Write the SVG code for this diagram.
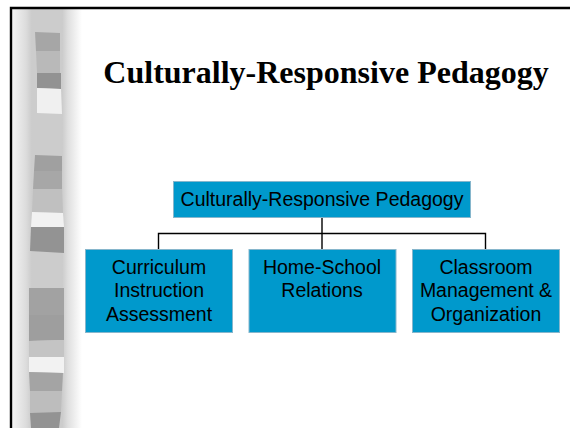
<svg xmlns="http://www.w3.org/2000/svg" width="570" height="428" viewBox="0 0 570 428">
  <style>
    .box { fill: #0099cc; stroke: #86b6cc; stroke-width: 1; }
    .lbl { font-family: "Liberation Sans", Arial, sans-serif; font-size: 19.5px; fill: #000; text-anchor: middle; }
    .title { font-family: "Liberation Serif", "Times New Roman", serif; font-size: 32px; font-weight: bold; fill: #000; }
    .wire { fill: none; stroke: #000; stroke-width: 1.4; }
  </style>
  <defs>
    <linearGradient id="column" x1="12" y1="0" x2="82" y2="0" gradientUnits="userSpaceOnUse">
      <stop offset="0" stop-color="#f4f4f4"/>
      <stop offset="0.2" stop-color="#dcdcdc"/>
      <stop offset="0.28" stop-color="#cccccc"/>
      <stop offset="0.72" stop-color="#cccccc"/>
      <stop offset="0.8" stop-color="#dfdfdf"/>
      <stop offset="1" stop-color="#ffffff"/>
    </linearGradient>
  </defs>

  <!-- slide background -->
  <rect x="0" y="0" width="570" height="428" fill="#ffffff"/>

  <!-- decorative banded column on the left -->
  <g id="sidebar">
    <rect x="12" y="9" width="70" height="419" fill="url(#column)"/>
    <polygon points="35,32 60,33 60,51 36,51" fill="#a6a6a6"/>
    <polygon points="36,51 60,51 60,73 37,73" fill="#b9b9b9"/>
    <polygon points="37,73 61,73 61,89 37,88" fill="#929292"/>
    <polygon points="37,88 61,89 62,114 37,113" fill="#f0f0f0"/>
    <polygon points="35,155 62,156 62,171 34,171" fill="#a0a0a0"/>
    <polygon points="34,171 62,171 62,189 33,189" fill="#a7a7a7"/>
    <polygon points="33,189 62,189 63,213 32,212" fill="#c0c0c0"/>
    <polygon points="32,212 63,213 64,227 31,227" fill="#f2f2f2"/>
    <polygon points="31,227 64,227 64,253 30,251" fill="#939393"/>
    <polygon points="29,288 64,288 64,315 29,315" fill="#a2a2a2"/>
    <polygon points="29,315 64,315 64,340 29,341" fill="#9e9e9e"/>
    <polygon points="29,341 64,340 64,357 29,357" fill="#c4c4c4"/>
    <polygon points="29,357 64,357 64,373 29,372" fill="#f2f2f2"/>
    <polygon points="29,372 63,373 62,391 30,391" fill="#a4a4a4"/>
    <polygon points="30,391 62,391 61,413 30,413" fill="#bdbdbd"/>
    <polygon points="30,413 61,412 59,428 31,428" fill="#939393"/>
  </g>

  <!-- slide frame -->
  <path d="M11,428 V8 H570" fill="none" stroke="#000" stroke-width="2.4"/>

  <text id="title" class="title" x="326" y="83" text-anchor="middle">Culturally-Responsive Pedagogy</text>

  <!-- connectors -->
  <g id="connectors">
    <path class="wire" d="M322,217.5 V249.5"/>
    <path class="wire" d="M158.5,249.5 V233.5 H485.5 V249.5"/>
  </g>

  <g id="root">
    <rect class="box" x="173.5" y="181.5" width="297" height="36"/>
    <text class="lbl" x="322" y="206">Culturally-Responsive Pedagogy</text>
  </g>

  <g id="curriculum">
    <rect class="box" x="85.5" y="249.5" width="147" height="83"/>
    <text class="lbl" x="159" y="274">Curriculum</text>
    <text class="lbl" x="159" y="297">Instruction</text>
    <text class="lbl" x="159" y="320.5">Assessment</text>
  </g>

  <g id="home-school">
    <rect class="box" x="249" y="249.5" width="147" height="83"/>
    <text class="lbl" x="322" y="274">Home-School</text>
    <text class="lbl" x="322" y="297">Relations</text>
  </g>

  <g id="classroom">
    <rect class="box" x="412.5" y="249.5" width="147" height="83"/>
    <text class="lbl" x="486" y="274">Classroom</text>
    <text class="lbl" x="486" y="297">Management &amp;</text>
    <text class="lbl" x="486" y="320.5">Organization</text>
  </g>
</svg>
